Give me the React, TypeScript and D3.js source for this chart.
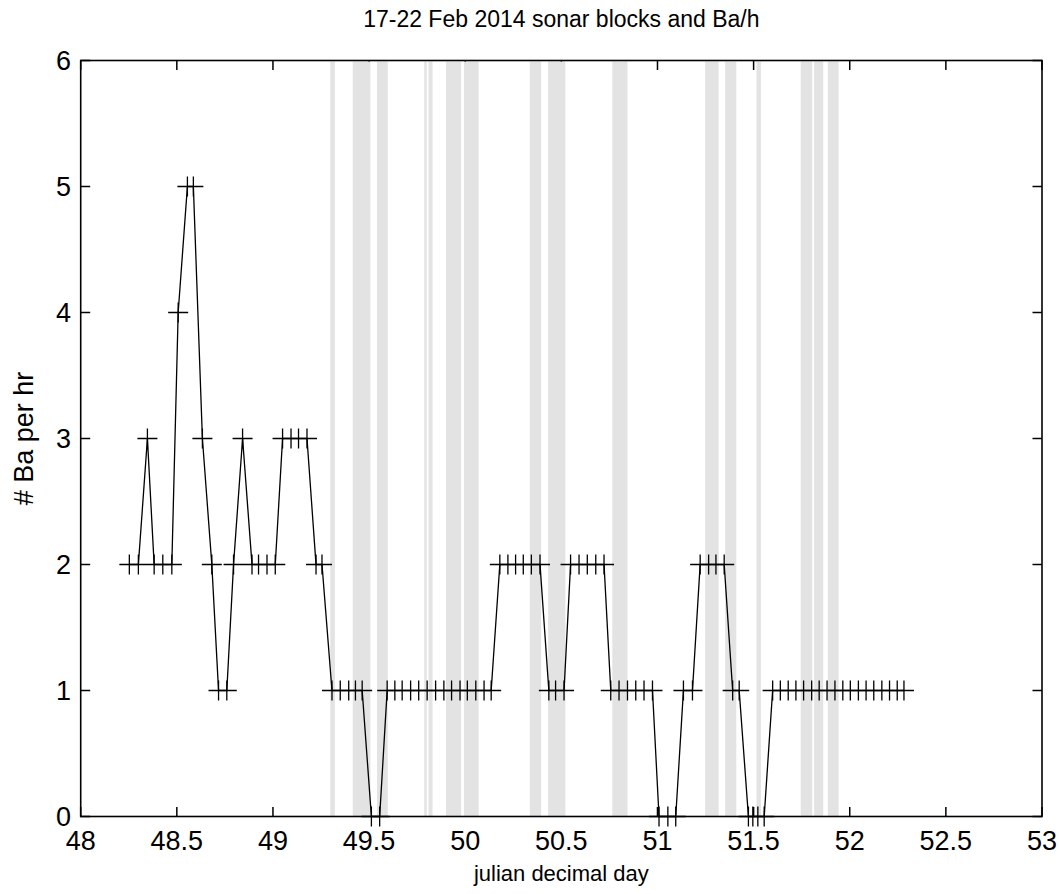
import React from "react";
import * as d3 from "d3";

const titleText = "17-22 Feb 2014 sonar blocks and Ba/h";
const xLabel = "julian decimal day";
const yLabel = "# Ba per hr";

const xTicks = [48, 48.5, 49, 49.5, 50, 50.5, 51, 51.5, 52, 52.5, 53];
const xTickLabels = ["48", "48.5", "49", "49.5", "50", "50.5", "51", "51.5", "52", "52.5", "53"];
const yTicks = [0, 1, 2, 3, 4, 5, 6];
const yTickLabels = ["0", "1", "2", "3", "4", "5", "6"];

// julian decimal day of each hourly count
const dayValues = [
  48.253, 48.3, 48.347, 48.382, 48.427, 48.474, 48.507, 48.555, 48.586, 48.633,
  48.682, 48.717, 48.76, 48.795, 48.842, 48.891, 48.925, 48.969, 49.012, 49.05,
  49.094, 49.133, 49.177, 49.224, 49.255, 49.307, 49.35, 49.394, 49.429, 49.464,
  49.512, 49.555, 49.594, 49.634, 49.672, 49.716, 49.758, 49.802, 49.846, 49.889,
  49.929, 49.973, 50.011, 50.055, 50.098, 50.135, 50.18, 50.222, 50.262, 50.302,
  50.344, 50.389, 50.435, 50.47, 50.514, 50.548, 50.592, 50.635, 50.679, 50.722,
  50.757, 50.8, 50.844, 50.887, 50.93, 50.974, 51.008, 51.054, 51.095, 51.135,
  51.182, 51.222, 51.266, 51.304, 51.347, 51.391, 51.425, 51.473, 51.496, 51.522,
  51.555, 51.599, 51.639, 51.68, 51.72, 51.76, 51.802, 51.841, 51.882, 51.923,
  51.964, 52.003, 52.045, 52.085, 52.125, 52.167, 52.207, 52.247, 52.282,
];
// number of Ba per hour
const baPerHour = [
  2, 2, 3, 2, 2, 2, 4, 5, 5, 3,
  2, 1, 1, 2, 3, 2, 2, 2, 2, 3,
  3, 3, 3, 2, 2, 1, 1, 1, 1, 1,
  0, 0, 1, 1, 1, 1, 1, 1, 1, 1,
  1, 1, 1, 1, 1, 1, 2, 2, 2, 2,
  2, 2, 1, 1, 1, 2, 2, 2, 2, 2,
  1, 1, 1, 1, 1, 1, 0, 0, 0, 1,
  1, 2, 2, 2, 2, 1, 1, 0, 0, 0,
  0, 1, 1, 1, 1, 1, 1, 1, 1, 1,
  1, 1, 1, 1, 1, 1, 1, 1, 1,
];

// sonar blocks (start / end, julian decimal day)
const sonarStart = [49.298, 49.415, 49.541, 49.787, 49.809, 49.9, 49.993, 50.336, 50.431, 50.765, 51.248, 51.352, 51.515, 51.745, 51.815, 51.886];
const sonarEnd = [49.322, 49.507, 49.597, 49.8, 49.83, 49.979, 50.07, 50.395, 50.521, 50.844, 51.318, 51.41, 51.538, 51.805, 51.862, 51.942];

const W = 1059;
const H = 894;
const L = 80.7;
const R = 1042;
const T = 60.5;
const B = 816.5;
const FONT = "'Liberation Sans', Arial, sans-serif";

export default function App() {
  const x = d3.scaleLinear().domain([48, 53]).range([L, R]);
  const y = d3.scaleLinear().domain([0, 6]).range([B, T]);
  const pts = dayValues.map((d, i) => [d, baPerHour[i]] as [number, number]);
  const line = d3.line<[number, number]>().x((d) => x(d[0])).y((d) => y(d[1]));
  const tk = 9.5;
  const ms = 10;
  const markers = pts
    .map(([a, b]) => {
      const px = x(a), py = y(b);
      return `M${px - ms},${py}H${px + ms}M${px},${py - ms}V${py + ms}`;
    })
    .join("");
  return (
    <svg width={W} height={H} style={{ position: "absolute", left: 0, top: 0, background: "#fff" }} fontFamily={FONT}>
      <rect x={0} y={0} width={W} height={H} fill="#fff" />
      {/* ticks */}
      <g stroke="#000" strokeWidth={1.5}>
        {xTicks.map((t, i) => (
          <g key={"xt" + i}>
            <line x1={x(t)} x2={x(t)} y1={B} y2={B - tk} />
            <line x1={x(t)} x2={x(t)} y1={T} y2={T + tk} />
          </g>
        ))}
        {yTicks.map((t, i) => (
          <g key={"yt" + i}>
            <line x1={L} x2={L + tk} y1={y(t)} y2={y(t)} />
            <line x1={R} x2={R - tk} y1={y(t)} y2={y(t)} />
          </g>
        ))}
      </g>
      {/* sonar blocks */}
      <g fill="#e3e3e3">
        {sonarStart.map((s, i) => (
          <rect key={"b" + i} x={x(s)} width={x(sonarEnd[i]) - x(s)} y={y(6) + 1} height={y(0) - y(6) - 1} />
        ))}
      </g>
      <rect x={L} y={T} width={R - L} height={B - T} fill="none" stroke="#000" strokeWidth={1.6} />
      {/* data */}
      <path d={line(pts) || ""} fill="none" stroke="#000" strokeWidth={1.3} />
      <path d={markers} fill="none" stroke="#000" strokeWidth={1.3} />
      {/* tick labels */}
      <g fontSize={27} fill="#000">
        {xTicks.map((t, i) => (
          <text key={"xl" + i} x={x(t)} y={850} textAnchor="middle">
            {xTickLabels[i]}
          </text>
        ))}
        {yTicks.map((t, i) => (
          <text key={"yl" + i} x={71} y={y(t)} dy="0.36em" textAnchor="end">
            {yTickLabels[i]}
          </text>
        ))}
      </g>
      <text x={(L + R) / 2} y={27} textAnchor="middle" fontSize={23} fill="#000">
        {titleText}
      </text>
      <text x={(L + R) / 2} y={881} textAnchor="middle" fontSize={22} fill="#000">
        {xLabel}
      </text>
      <text transform={`translate(33,${(T + B) / 2}) rotate(-90)`} textAnchor="middle" fontSize={27} fill="#000">
        {yLabel}
      </text>
    </svg>
  );
}
